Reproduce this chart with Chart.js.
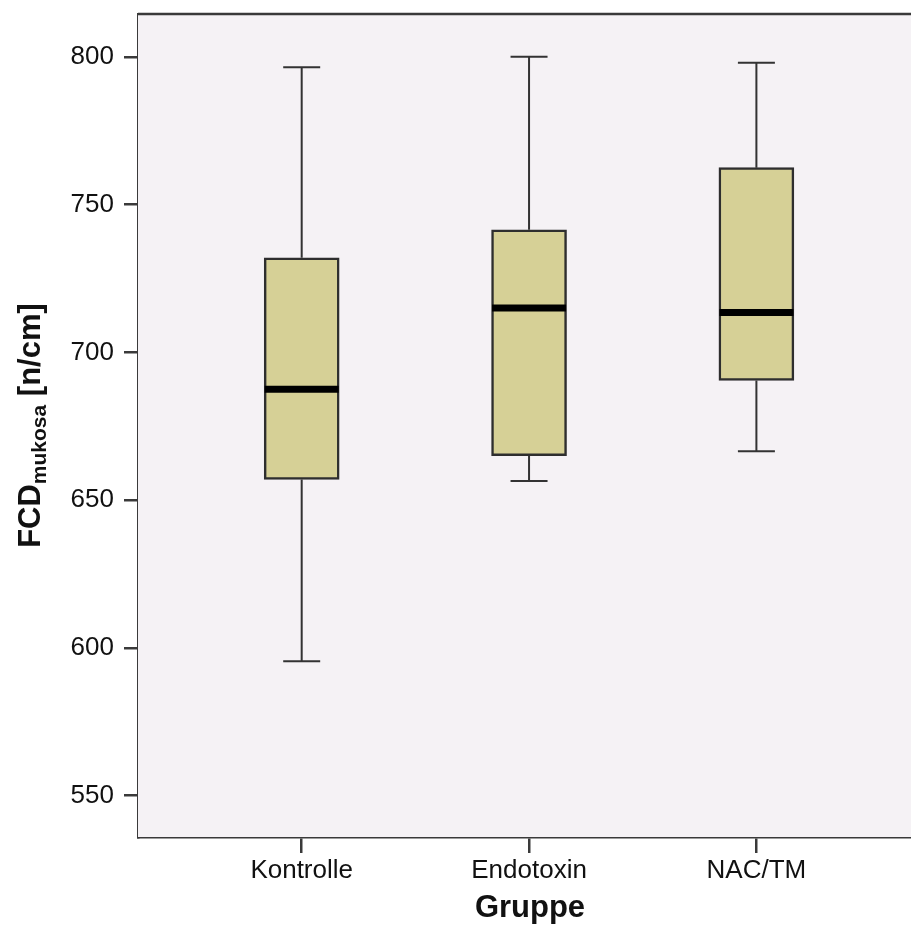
<!DOCTYPE html>
<html lang="de">
<head>
<meta charset="UTF-8">
<title>FCD mukosa Boxplot</title>
<script src="https://cdn.jsdelivr.net/npm/chart.js"></script>
<style>
  body { margin: 0; padding: 0; background: #fff; }
  #wrap { width: 911px; height: 925px; position: relative; }
</style>
</head>
<body>
<div id="wrap"><canvas id="boxChart"></canvas></div>
<script>
// groups and box statistics
const groups = ['Kontrolle', 'Endotoxin', 'NAC/TM'];
const whiskerLow = [595.5, 656.5, 666.5];
const q1 = [657, 665, 690.5];
const median = [687.5, 715, 713.5];
const q3 = [732, 741.5, 762.5];
const whiskerHigh = [796.5, 800, 798];
const yTicks = [550, 600, 650, 700, 750, 800];

const axisColor = '#3a3a3a';

// draws background, whiskers, medians and the titles
const boxExtras = {
  id: 'boxExtras',
  beforeDatasetsDraw(chart) {
    const { ctx, chartArea: a } = chart;
    ctx.save();
    ctx.fillStyle = '#f5f2f5';
    ctx.fillRect(a.left, a.top, a.right - a.left, a.bottom - a.top);
    const xs = chart.scales.x, ys = chart.scales.y;
    ctx.strokeStyle = '#333';
    ctx.lineWidth = 2;
    groups.forEach((g, i) => {
      const x = xs.getPixelForValue(i + 1);
      ctx.beginPath();
      ctx.moveTo(x, ys.getPixelForValue(whiskerHigh[i]));
      ctx.lineTo(x, ys.getPixelForValue(q3[i]));
      ctx.moveTo(x, ys.getPixelForValue(q1[i]));
      ctx.lineTo(x, ys.getPixelForValue(whiskerLow[i]));
      ctx.moveTo(x - 18.5, ys.getPixelForValue(whiskerHigh[i]));
      ctx.lineTo(x + 18.5, ys.getPixelForValue(whiskerHigh[i]));
      ctx.moveTo(x - 18.5, ys.getPixelForValue(whiskerLow[i]));
      ctx.lineTo(x + 18.5, ys.getPixelForValue(whiskerLow[i]));
      ctx.stroke();
    });
    ctx.restore();
  },
  afterDatasetsDraw(chart) {
    const { ctx, chartArea: a } = chart;
    const xs = chart.scales.x, ys = chart.scales.y;
    ctx.save();
    ctx.strokeStyle = '#000';
    ctx.lineWidth = 7;
    groups.forEach((g, i) => {
      const x = xs.getPixelForValue(i + 1);
      const y = ys.getPixelForValue(median[i]);
      ctx.beginPath();
      ctx.moveTo(x - 37, y);
      ctx.lineTo(x + 37, y);
      ctx.stroke();
    });
    // top frame line
    ctx.strokeStyle = axisColor;
    ctx.lineWidth = 2.5;
    ctx.beginPath();
    ctx.moveTo(a.left, a.top);
    ctx.lineTo(a.right, a.top);
    ctx.stroke();

    // x title
    ctx.fillStyle = '#111';
    ctx.font = 'bold 31px "Liberation Sans", Arial, sans-serif';
    ctx.textAlign = 'center';
    ctx.textBaseline = 'middle';
    ctx.fillText('Gruppe', 530, 908);

    // y title with subscript
    ctx.translate(30, (a.top + a.bottom) / 2);
    ctx.rotate(-Math.PI / 2);
    const big = 'bold 31px "Liberation Sans", Arial, sans-serif';
    const small = 'bold 21px "Liberation Sans", Arial, sans-serif';
    const parts = [['FCD', big, 0], ['mukosa', small, 6], [' [n/cm]', big, 0]];
    let total = 0;
    parts.forEach(p => { ctx.font = p[1]; total += ctx.measureText(p[0]).width; });
    let cx = -total / 2;
    ctx.textAlign = 'left';
    ctx.textBaseline = 'alphabetic';
    parts.forEach(p => {
      ctx.font = p[1];
      ctx.fillText(p[0], cx, 10 + p[2]);
      cx += ctx.measureText(p[0]).width;
    });
    ctx.restore();
  }
};

new Chart(document.getElementById('boxChart'), {
  type: 'bar',
  data: {
    datasets: [{
      data: groups.map((g, i) => ({ x: i + 1, y: [q1[i], q3[i]] })),
      backgroundColor: '#d6d096',
      borderColor: '#2e2e2e',
      borderWidth: 2.5,
      borderSkipped: false,
      barThickness: 75
    }]
  },
  options: {
    responsive: true,
    maintainAspectRatio: false,
    animation: false,
    layout: { padding: { top: 14, right: 0, left: 0, bottom: 0 } },
    plugins: { legend: { display: false }, tooltip: { enabled: false } },
    scales: {
      x: {
        type: 'linear',
        offset: false,
        min: 0.28,
        max: 3.68,
        afterBuildTicks: s => { s.ticks = groups.map((g, i) => ({ value: i + 1 })); },
        afterFit: s => { s.height = 88; s.paddingLeft = 0; s.paddingRight = 0; },
        ticks: {
          callback: v => groups[v - 1],
          color: '#111',
          font: { family: '"Liberation Sans", Arial, sans-serif', size: 26 },
          padding: 2,
          autoSkip: false,
          maxRotation: 0
        },
        grid: { offset: false, drawOnChartArea: false, tickLength: 16, color: axisColor, lineWidth: 2.5 },
        border: { display: true, color: axisColor, width: 2.5 }
      },
      y: {
        min: 536,
        max: 814.5,
        afterBuildTicks: s => { s.ticks = yTicks.map(v => ({ value: v })); },
        afterFit: s => { s.width = 138; s.paddingTop = 0; s.paddingBottom = 0; },
        ticks: {
          color: '#111',
          font: { family: '"Liberation Sans", Arial, sans-serif', size: 26 },
          padding: 10
        },
        grid: { drawOnChartArea: false, tickLength: 14, color: axisColor, lineWidth: 2.5 },
        border: { display: true, color: axisColor, width: 2.5 }
      }
    }
  },
  plugins: [boxExtras]
});
</script>
</body>
</html>
